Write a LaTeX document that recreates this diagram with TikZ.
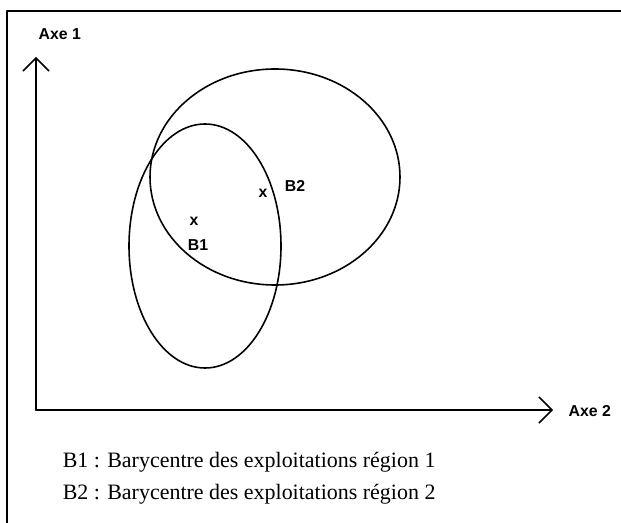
\documentclass[tikz,border=0pt]{standalone}
\usepackage{fontspec}
\setmainfont{Liberation Serif}
\setsansfont{Liberation Sans}
\usetikzlibrary{arrows.meta}

\begin{document}
\begin{tikzpicture}[x=0.02cm, y=-0.02cm, line join=round, line cap=round, line width=0.9pt,
 >={Straight Barb[angle'=90,length=2.6mm]},
 axelabel/.style={font=\sffamily\bfseries\fontsize{9}{11}\selectfont},
 legende/.style={font=\fontsize{12.5}{15}\selectfont, anchor=west, inner sep=0pt}]
 \useasboundingbox (0,0) rectangle (621,523);
 % Cadre
 \draw (7,523) -- (7,11) -- (621,11);
 % Axes
 \coordinate (O) at (36,410);
 \coordinate (haut) at (36,57);
 \coordinate (droite) at (553,410);
 \draw[->] (O) -- (haut);
 \draw[->] (O) -- (droite);
 \node[axelabel, anchor=west] (axeun) at (32,34) {Axe 1};
 \node[axelabel, anchor=west] (axedeux) at (562,411) {Axe 2};
 % Regions
 \draw (205,246) ellipse (76 and 122);
 \draw (275,177) ellipse (125 and 108);
 % Barycentres
 \node[axelabel] (x1) at (194,221) {x};
 \node[axelabel] (b1) at (198,245) {B1};
 \node[axelabel] (x2) at (263,193) {x};
 \node[axelabel] (b2) at (295,186) {B2};
 % Legende
 \node[legende] (l1) at (62,462) {B1 : Barycentre des exploitations région 1};
 \node[legende] (l2) at (62,494) {B2 : Barycentre des exploitations région 2};
\end{tikzpicture}
\end{document}
